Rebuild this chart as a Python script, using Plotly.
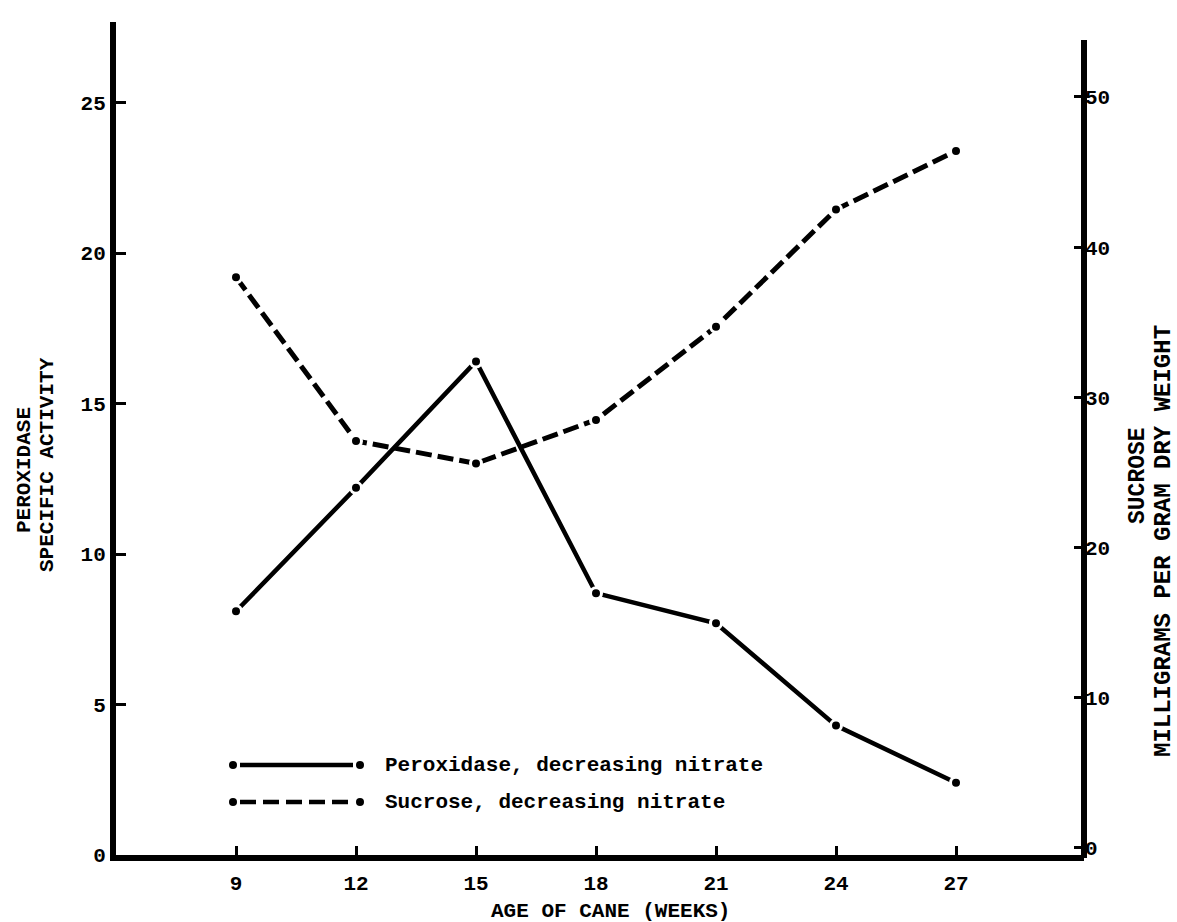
import plotly.graph_objects as go

# Age of cane (weeks) and the two measured series
weeks = [9, 12, 15, 18, 21, 24, 27]
peroxidase = [8.1, 12.2, 16.4, 8.7, 7.7, 4.3, 2.4]        # specific activity (left axis)
sucrose = [38.0, 27.1, 25.6, 28.5, 34.7, 42.5, 46.4]       # mg per g dry weight (right axis)

left_ticks = [0, 5, 10, 15, 20, 25]
right_ticks = [0, 10, 20, 30, 40, 50]

W, H = 1177, 922
L, R, T, B = 116, 93, 22, 67
PW, PH = W - L - R, H - T - B

FONT = "Liberation Mono"
INK = "black"


def px(x):
    """page pixel x -> paper fraction"""
    return (x - L) / PW


def py(y):
    """page pixel y (from top) -> paper fraction"""
    return (H - B - y) / PH


fig = go.Figure()

fig.add_trace(go.Scatter(
    x=weeks, y=peroxidase, mode="lines+markers", yaxis="y",
    line=dict(color=INK, width=4.5),
    marker=dict(size=11, color=INK, line=dict(color="white", width=3)),
    showlegend=False, name="Peroxidase, decreasing nitrate",
))
fig.add_trace(go.Scatter(
    x=weeks, y=sucrose, mode="lines+markers", yaxis="y2",
    line=dict(color=INK, width=5, dash="16px,6px"),
    marker=dict(size=11, color=INK, line=dict(color="white", width=3)),
    showlegend=False, name="Sucrose, decreasing nitrate",
))

tickfont = dict(family=FONT, size=21, color=INK, weight="bold")

fig.update_layout(
    width=W, height=H,
    margin=dict(l=L, r=R, t=T, b=B),
    paper_bgcolor="white", plot_bgcolor="white",
    font=dict(family=FONT, size=20, color=INK, weight="bold"),
    xaxis=dict(
        range=[6, 30.2], tickvals=weeks, ticktext=[str(w) for w in weeks],
        ticks="inside", ticklen=9, tickwidth=3, tickcolor=INK,
        showline=True, linewidth=6, linecolor=INK,
        showgrid=False, zeroline=False, tickfont=tickfont,
        ticklabelstandoff=4,
    ),
    yaxis=dict(
        range=[0, 27.68], tickvals=left_ticks,
        ticks="inside", ticklen=10, tickwidth=3, tickcolor=INK,
        showline=True, linewidth=6, linecolor=INK,
        showgrid=False, zeroline=False, tickfont=tickfont,
    ),
    yaxis2=dict(
        overlaying="y", side="right", anchor="x",
        range=[-0.47, -0.47 + 55.46], tickvals=right_ticks,
        ticks="inside", ticklen=10, tickwidth=3, tickcolor=INK,
        showline=False, showgrid=False, zeroline=False, tickfont=tickfont,
    ),
)

shapes = []
# right-hand axis rule (stops short of the top like the left one)
shapes.append(dict(type="line", xref="paper", yref="paper",
                   x0=1, x1=1, y0=py(858), y1=py(40),
                   line=dict(color=INK, width=6)))


def dot(xp, yp, r=4):
    return dict(type="circle", xref="paper", yref="paper",
                x0=px(xp - r), x1=px(xp + r), y0=py(yp + r), y1=py(yp - r),
                fillcolor=INK, line=dict(width=0))


# key: sample line with end dots, then label
key = [
    (765, "solid", "Peroxidase, decreasing nitrate"),
    (802, "16px,7px", "Sucrose, decreasing nitrate"),
]
annotations = []
for yk, dash, label in key:
    shapes.append(dict(type="line", xref="paper", yref="paper",
                       x0=px(240), x1=px(353), y0=py(yk), y1=py(yk),
                       line=dict(color=INK, width=4.5, dash=dash)))
    shapes.append(dot(233, yk))
    shapes.append(dot(360, yk))
    annotations.append(dict(xref="paper", yref="paper", x=px(383), y=py(yk),
                            xanchor="left", yanchor="middle", showarrow=False,
                            text=label, font=dict(size=21)))

# axis titles
annotations += [
    dict(xref="paper", yref="paper", x=px(610), y=py(911), text="AGE OF CANE (WEEKS)",
         showarrow=False, xanchor="center", yanchor="middle", font=dict(size=21)),
    dict(xref="paper", yref="paper", x=px(24), y=py(470), text="PEROXIDASE",
         textangle=-90, showarrow=False, xanchor="center", yanchor="middle",
         font=dict(size=21)),
    dict(xref="paper", yref="paper", x=px(48), y=py(465), text="SPECIFIC ACTIVITY",
         textangle=-90, showarrow=False, xanchor="center", yanchor="middle",
         font=dict(size=21)),
    dict(xref="paper", yref="paper", x=px(1138), y=py(476), text="SUCROSE",
         textangle=-90, showarrow=False, xanchor="center", yanchor="middle",
         font=dict(size=23)),
    dict(xref="paper", yref="paper", x=px(1163), y=py(541),
         text="MILLIGRAMS PER GRAM DRY WEIGHT",
         textangle=-90, showarrow=False, xanchor="center", yanchor="middle",
         font=dict(size=24)),
]

fig.update_layout(shapes=shapes, annotations=annotations)

fig.write_html("out.html")
